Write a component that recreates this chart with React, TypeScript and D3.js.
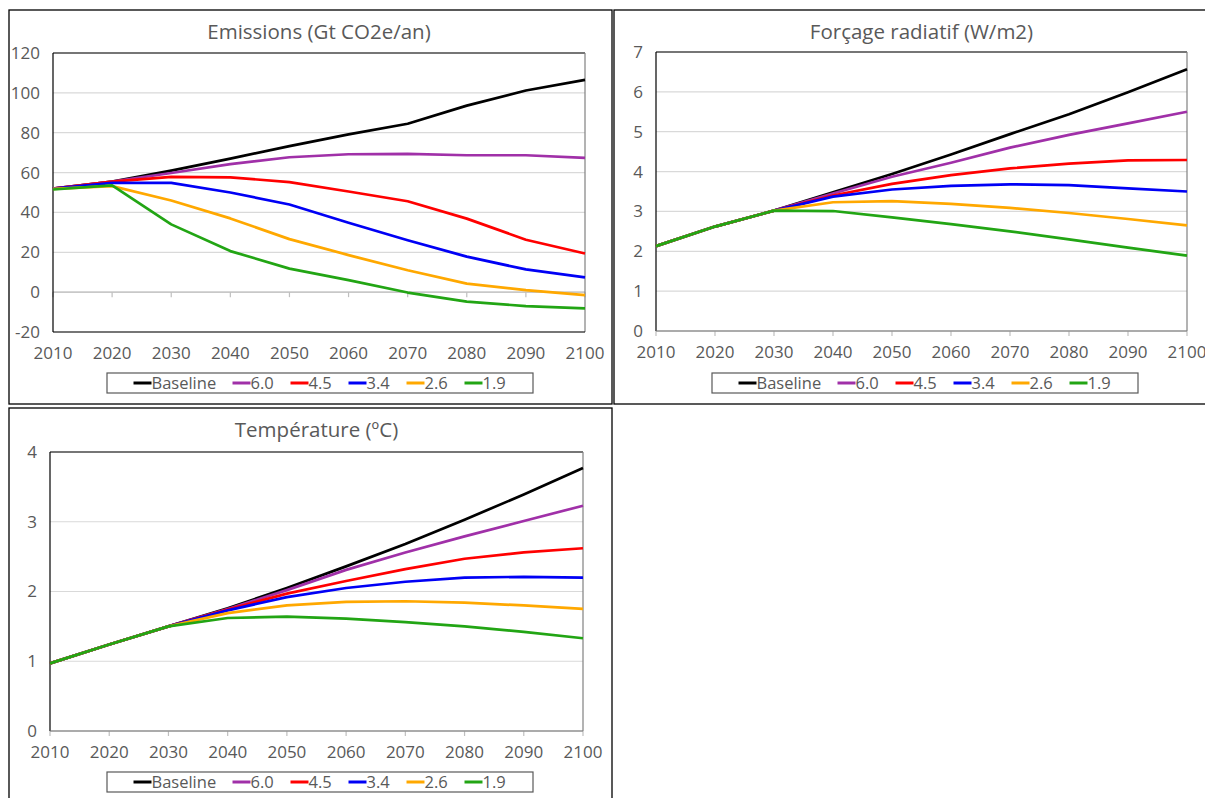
import React from "react";
import * as d3 from "d3";

// Shared categories
const years = [2010, 2020, 2030, 2040, 2050, 2060, 2070, 2080, 2090, 2100];
const seriesNames = ["Baseline", "6.0", "4.5", "3.4", "2.6", "1.9"];
const seriesColors = ["#000000", "#A030A8", "#FF0000", "#0000F5", "#FFA800", "#22A514"];

// Emissions (Gt CO2e/an)
const emiBaseline = [52, 55.5, 61, 67, 73.3, 79.2, 84.5, 93.6, 101.2, 106.5];
const emi60 = [52, 55.5, 59.8, 64.2, 67.7, 69.2, 69.4, 68.7, 68.7, 67.4];
const emi45 = [52, 55.5, 57.8, 57.6, 55.2, 50.5, 45.6, 36.9, 26.3, 19.4];
const emi34 = [52, 54.8, 54.8, 50, 44, 34.8, 26, 17.8, 11.4, 7.4];
const emi26 = [51.8, 53.2, 46, 37, 26.6, 18.6, 11, 4.3, 1, -1.5];
const emi19 = [51.5, 53.6, 34, 20.6, 11.8, 6, -0.2, -4.8, -7, -8.1];
const emiTicks = [-20, 0, 20, 40, 60, 80, 100, 120];

// Forçage radiatif (W/m2)
const rfBaseline = [2.13, 2.62, 3.02, 3.48, 3.94, 4.43, 4.94, 5.44, 5.99, 6.57];
const rf60 = [2.13, 2.62, 3.02, 3.45, 3.87, 4.22, 4.6, 4.92, 5.21, 5.5];
const rf45 = [2.13, 2.62, 3.02, 3.4, 3.69, 3.91, 4.08, 4.2, 4.28, 4.29];
const rf34 = [2.13, 2.62, 3.02, 3.37, 3.55, 3.64, 3.68, 3.66, 3.58, 3.5];
const rf26 = [2.13, 2.62, 3.02, 3.23, 3.26, 3.19, 3.09, 2.96, 2.81, 2.65];
const rf19 = [2.13, 2.62, 3.02, 3.01, 2.85, 2.68, 2.5, 2.3, 2.09, 1.89];
const rfTicks = [0, 1, 2, 3, 4, 5, 6, 7];

// Température (ºC)
const tBaseline = [0.97, 1.24, 1.5, 1.76, 2.05, 2.36, 2.68, 3.03, 3.39, 3.77];
const t60 = [0.97, 1.24, 1.5, 1.75, 2.02, 2.31, 2.56, 2.79, 3.01, 3.23];
const t45 = [0.97, 1.24, 1.5, 1.74, 1.97, 2.15, 2.32, 2.47, 2.56, 2.62];
const t34 = [0.97, 1.24, 1.5, 1.73, 1.92, 2.05, 2.14, 2.2, 2.21, 2.2];
const t26 = [0.97, 1.24, 1.5, 1.69, 1.8, 1.85, 1.86, 1.84, 1.8, 1.75];
const t19 = [0.97, 1.24, 1.5, 1.62, 1.64, 1.61, 1.56, 1.5, 1.42, 1.33];
const tTicks = [0, 1, 2, 3, 4];

const FONT = "'Open Sans', sans-serif";
const TEXT = "#595959";

type Box = { x: number; y: number; w: number; h: number };

type ChartProps = {
  title: string;
  frame: Box;
  plot: { l: number; r: number; t: number; b: number };
  ticks: number[];
  values: number[][];
  axisAt: number;
  legend: Box;
};

const LineChart = ({ title, frame, plot, ticks, values, axisAt, legend }: ChartProps) => {
  const x = d3
    .scalePoint<number>()
    .domain(years)
    .range([plot.l, plot.r]);
  const y = d3
    .scaleLinear()
    .domain([ticks[0], ticks[ticks.length - 1]])
    .range([plot.b, plot.t]);

  const line = d3
    .line<number>()
    .x((_, i) => x(years[i]) as number)
    .y((d) => y(d));

  const axisY = y(axisAt);
  const labelY = plot.b + 21;

  // legend layout: line segment + label, spread across the box
  const textW = (s: string) => (s.length > 3 ? 65 : 24);
  const segW = 18;
  const gap = 16;
  const items = seriesNames.map((n) => segW + textW(n));
  const total = d3.sum(items) + gap * (items.length - 1);
  let cursor = legend.x + (legend.w - total) / 2;
  const legendPos = items.map((w) => {
    const p = cursor;
    cursor += w + gap;
    return p;
  });
  const ly = legend.y + legend.h / 2;

  return (
    <g fontFamily={FONT}>
      <rect x={frame.x} y={frame.y} width={frame.w} height={frame.h} fill="#fff" stroke="#000" strokeWidth={1.3} />
      <text x={(plot.l + plot.r) / 2} y={frame.y + 29} textAnchor="middle" fontSize={20.5} fill={TEXT}>
        {title}
      </text>

      {/* gridlines */}
      {ticks.map((t) => (
        <line key={"g" + t} x1={plot.l} x2={plot.r} y1={y(t)} y2={y(t)} stroke="#D9D9D9" strokeWidth={1.2} />
      ))}

      {/* category axis */}
      <line x1={plot.l} x2={plot.r} y1={axisY} y2={axisY} stroke="#BFBFBF" strokeWidth={1.2} />
      {years.map((yr) => (
        <line key={"t" + yr} x1={x(yr)} x2={x(yr)} y1={axisY} y2={axisY + 5} stroke="#BFBFBF" strokeWidth={1.2} />
      ))}

      {/* plot border */}
      <line x1={plot.l} x2={plot.l} y1={plot.t} y2={plot.b} stroke="#000" strokeWidth={1.2} />
      <line x1={plot.l} x2={plot.r} y1={plot.t} y2={plot.t} stroke="#000" strokeWidth={1.2} />
      <line x1={plot.r} x2={plot.r} y1={plot.t} y2={plot.b} stroke="#808080" strokeWidth={1.2} />
      <line x1={plot.l} x2={plot.r} y1={plot.b} y2={plot.b} stroke={axisAt === ticks[0] ? "#808080" : "#000"} strokeWidth={1.2} />

      {/* y tick labels */}
      {ticks.map((t) => (
        <text key={"y" + t} x={plot.l - 13} y={y(t)} dy="0.35em" textAnchor="end" fontSize={17} fill={TEXT}>
          {t}
        </text>
      ))}

      {/* x tick labels */}
      {years.map((yr) => (
        <text key={"x" + yr} x={x(yr)} y={labelY} dy="0.35em" textAnchor="middle" fontSize={17} fill={TEXT}>
          {yr}
        </text>
      ))}

      {/* series */}
      {values.map((v, i) => (
        <path key={seriesNames[i]} d={line(v) || ""} fill="none" stroke={seriesColors[i]} strokeWidth={2.7} strokeLinejoin="round" />
      ))}

      {/* legend */}
      <rect x={legend.x} y={legend.y} width={legend.w} height={legend.h} fill="#fff" stroke="#595959" strokeWidth={1.2} />
      {seriesNames.map((n, i) => (
        <g key={"l" + n}>
          <line x1={legendPos[i]} x2={legendPos[i] + segW} y1={ly} y2={ly} stroke={seriesColors[i]} strokeWidth={3} />
          <text x={legendPos[i] + segW} y={ly} dy="0.35em" fontSize={16.5} fill={TEXT}>
            {n}
          </text>
        </g>
      ))}
    </g>
  );
};

const App = () => {
  return (
    <svg
      width={1205}
      height={798}
      style={{ position: "absolute", left: 0, top: 0, background: "#fff" }}
    >
      <LineChart
        title="Emissions (Gt CO2e/an)"
        frame={{ x: 9, y: 10, w: 603, h: 394 }}
        plot={{ l: 53, r: 585, t: 53, b: 332 }}
        ticks={emiTicks}
        values={[emiBaseline, emi60, emi45, emi34, emi26, emi19]}
        axisAt={0}
        legend={{ x: 107, y: 373, w: 426, h: 20 }}
      />
      <LineChart
        title="Forçage radiatif (W/m2)"
        frame={{ x: 614, y: 10, w: 610, h: 394 }}
        plot={{ l: 656, r: 1187, t: 52, b: 331 }}
        ticks={rfTicks}
        values={[rfBaseline, rf60, rf45, rf34, rf26, rf19]}
        axisAt={0}
        legend={{ x: 712, y: 373, w: 426, h: 20 }}
      />
      <LineChart
        title="Température (ºC)"
        frame={{ x: 9, y: 408, w: 603, h: 400 }}
        plot={{ l: 50, r: 583, t: 452, b: 731 }}
        ticks={tTicks}
        values={[tBaseline, t60, t45, t34, t26, t19]}
        axisAt={0}
        legend={{ x: 107, y: 772, w: 426, h: 20 }}
      />
    </svg>
  );
};

export default App;
